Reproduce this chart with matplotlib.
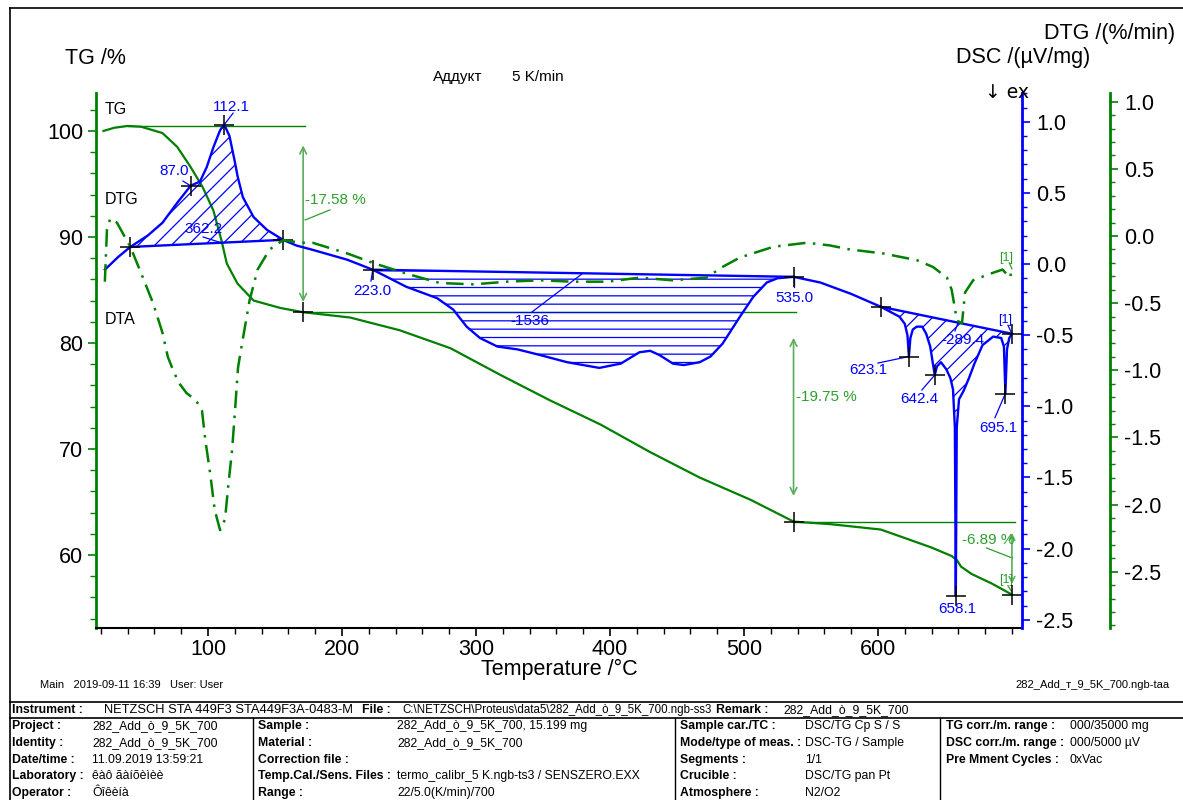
import numpy as np
import matplotlib
matplotlib.use('Agg')
import matplotlib.pyplot as plt
from matplotlib.lines import Line2D
from matplotlib.ticker import MultipleLocator

plt.rcParams['font.family'] = ['Liberation Sans', 'DejaVu Sans']
plt.rcParams['hatch.linewidth'] = 0.9

# ---------------- data ----------------
tg_T = [22, 30, 40, 50, 66, 77, 87, 96, 104, 110, 114, 122, 134, 154, 171, 206, 243, 281, 318,
        355, 393, 430, 467, 505, 537, 565, 602, 620, 640, 655, 659, 662, 670, 685, 700]
tg = [100.0, 100.3, 100.47, 100.4, 99.8, 98.5, 96.6, 94.7, 92.5, 89.7, 87.5, 85.6, 84.0, 83.3,
      82.9, 82.4, 81.2, 79.5, 77.0, 74.6, 72.3, 69.7, 67.3, 65.2, 63.15, 62.9, 62.4, 61.6, 60.7,
      59.9, 59.5, 58.9, 58.2, 57.3, 56.26]

dsc_T = [23, 33, 42, 55, 66, 77, 87, 94, 99, 104, 109, 112.1, 116, 120, 122, 126, 134, 144, 156,
         166, 178, 204, 223, 248, 271, 283, 293, 303, 316, 331, 348, 368, 392, 408, 422, 430, 437,
         447, 455, 467, 475, 484, 497, 507, 517, 525, 537, 557, 580, 602, 610, 616, 620, 622,
         623.1, 624.2, 626, 629, 633, 636, 639, 641, 642.4, 644, 647, 651, 654, 656, 657.4, 658.1,
         658.8, 660.5, 664, 668, 672, 678, 686, 692, 694, 695.1, 696.3, 698, 700]
dsc = [-0.04, 0.05, 0.12, 0.20, 0.29, 0.43, 0.55, 0.58, 0.68, 0.82, 0.94, 0.98, 0.90, 0.72, 0.62,
       0.47, 0.33, 0.24, 0.17, 0.13, 0.10, 0.03, -0.04, -0.16, -0.24, -0.32, -0.44, -0.52, -0.58,
       -0.60, -0.64, -0.69, -0.73, -0.70, -0.62, -0.61, -0.64, -0.70, -0.71, -0.69, -0.65, -0.56,
       -0.37, -0.23, -0.13, -0.10, -0.09, -0.13, -0.21, -0.30, -0.34, -0.37, -0.42, -0.50, -0.65,
       -0.52, -0.46, -0.44, -0.44, -0.49, -0.58, -0.70, -0.78, -0.72, -0.69, -0.74, -0.80, -0.88,
       -1.15, -2.33, -1.15, -0.95, -0.89, -0.80, -0.70, -0.57, -0.51, -0.52, -0.58, -0.91, -0.60,
       -0.52, -0.49]

dtg_T = [23, 24.6, 27, 32, 42, 49, 59, 66, 70, 74, 78, 84, 88, 92, 95.5, 98, 101.5, 105, 109,
         112.7, 115, 118, 120, 122.4, 125.4, 131, 137, 146, 156, 169, 178, 204, 223, 248, 273,
         298, 323, 348, 372, 398, 422, 447, 472, 484, 497, 522, 547, 564, 579, 604, 629, 641,
         651.5, 655, 659, 662.7, 665, 671, 684, 693, 698.5, 700]
dtg = [-0.34, 0.05, 0.13, 0.10, -0.08, -0.25, -0.50, -0.72, -0.90, -1.00, -1.09, -1.17, -1.20,
       -1.24, -1.30, -1.52, -1.76, -2.04, -2.19, -2.11, -1.87, -1.59, -1.32, -0.98, -0.80, -0.48,
       -0.25, -0.10, -0.03, -0.05, -0.05, -0.13, -0.20, -0.28, -0.35, -0.36, -0.34, -0.33, -0.34,
       -0.34, -0.31, -0.33, -0.31, -0.23, -0.16, -0.08, -0.05, -0.07, -0.10, -0.13, -0.18, -0.23,
       -0.31, -0.40, -0.63, -0.65, -0.42, -0.33, -0.28, -0.25, -0.31, -0.25]

# DSC peak areas: (start T, end T, area label)
areas = [(42, 156, "362.2"), (223, 537, "-1536"), (602, 700, "-289.4")]
dsc_marks = [42, 87, 112.1, 156, 223, 537, 602, 623.1, 642.4, 658.1, 695.1, 700]
# TG steps: (T of step, start %, end %, label)
tg_steps = [(171, 100.47, 82.9, "-17.58 %"), (537, 82.9, 63.15, "-19.75 %"),
            (700, 63.15, 56.26, "-6.89 %")]

x_ticks = [100, 200, 300, 400, 500, 600]
tg_ticks = [60, 70, 80, 90, 100]
dsc_ticks = [-2.5, -2.0, -1.5, -1.0, -0.5, 0.0, 0.5, 1.0]
dtg_ticks = [-2.5, -2.0, -1.5, -1.0, -0.5, 0.0, 0.5, 1.0]

# ---------------- figure ----------------
W, H = 1183, 800
fig = plt.figure(figsize=(W / 100, H / 100), dpi=100)
L, R, T, B = 96, 1022, 93, 628
ax = fig.add_axes([L / W, 1 - B / H, (R - L) / W, (B - T) / H])
ax2 = ax.twinx()
ax3 = ax.twinx()

GREEN = '#008000'
LGREEN = '#2e9e2e'
AGREEN = '#5aae5a'
BLUE = '#0000ff'

ax.set_xlim(16.4, 707.5)
ax.set_ylim(53.11, 103.58)
ax2.set_ylim(-2.558, 1.202)
ax3.set_ylim(-2.919, 1.065)

for a in (ax, ax2, ax3):
    for s in a.spines.values():
        s.set_visible(False)
ax.spines['left'].set_visible(True)
ax.spines['left'].set_color(GREEN)
ax.spines['left'].set_linewidth(2)
ax.spines['bottom'].set_visible(True)
ax.spines['bottom'].set_color('black')
ax.spines['bottom'].set_linewidth(1.5)
ax2.spines['right'].set_visible(True)
ax2.spines['right'].set_color(BLUE)
ax2.spines['right'].set_linewidth(2)
ax3.spines['right'].set_visible(True)
ax3.spines['right'].set_position(('outward', 88 * 0.72))
ax3.spines['right'].set_color(GREEN)
ax3.spines['right'].set_linewidth(2)

ax.set_xticks(x_ticks)
ax.xaxis.set_minor_locator(MultipleLocator(20))
ax.tick_params(axis='x', which='major', direction='out', length=6, width=1.2, labelsize=15.5, pad=2)
ax.tick_params(axis='x', which='minor', direction='out', length=4, width=1)
ax.set_yticks(tg_ticks)
ax.yaxis.set_minor_locator(MultipleLocator(2))
ax.tick_params(axis='y', which='major', direction='out', length=6, width=1.2, color=GREEN,
               labelsize=15.5, pad=3)
ax.tick_params(axis='y', which='minor', direction='out', length=4, width=1, color=GREEN)

ax2.set_yticks(dsc_ticks)
ax2.set_yticklabels([f"{v:.1f}" for v in dsc_ticks])
ax2.yaxis.set_minor_locator(MultipleLocator(0.1))
ax2.tick_params(axis='y', which='major', direction='out', length=6, width=1.2, color=BLUE,
                labelsize=15.5, pad=4)
ax2.tick_params(axis='y', which='minor', direction='out', length=3.5, width=1, color=BLUE)

ax3.set_yticks(dtg_ticks)
ax3.set_yticklabels([f"{v:.1f}" for v in dtg_ticks])
ax3.yaxis.set_minor_locator(MultipleLocator(0.1))
ax3.tick_params(axis='y', which='major', direction='out', length=6, width=1.2, color=GREEN,
                labelsize=15.5, pad=4)
ax3.tick_params(axis='y', which='minor', direction='out', length=3.5, width=1, color=GREEN)

# ---------------- curves ----------------
ax.plot(tg_T, tg, color=GREEN, lw=1.6, zorder=3)
ax3.plot(dtg_T, dtg, color=GREEN, lw=1.8, ls=(0, (7, 3, 1, 3)), zorder=3)
ax2.plot(dsc_T, dsc, color=BLUE, lw=1.7, zorder=4)

dT = np.array(dsc_T, dtype=float)
dV = np.array(dsc, dtype=float)
for i, (t0, t1, lab) in enumerate(areas):
    v0 = np.interp(t0, dT, dV)
    v1 = np.interp(t1, dT, dV)
    m = (dT >= t0) & (dT <= t1)
    tt = dT[m]
    base = v0 + (v1 - v0) * (tt - t0) / (t1 - t0)
    ax2.plot([t0, t1], [v0, v1], color=BLUE, lw=1.7, zorder=4)
    ax2.fill_between(tt, dV[m], base, facecolor='none', edgecolor=BLUE,
                     hatch='--' if i == 1 else '//', linewidth=0, zorder=2)

mv = np.interp(dsc_marks, dT, dV)
ax2.plot(dsc_marks, mv, ls='none', marker='+', ms=14, mew=1.1, color='black', zorder=6)

# ---------------- TG step annotations ----------------
s1, s2, s3 = tg_steps
# step 1
ax.plot([40, 172.5], [s1[1], s1[1]], color=GREEN, lw=1, zorder=2)
ax.annotate('', xy=(s1[0], 83.6), xytext=(s1[0], 98.9),
            arrowprops=dict(arrowstyle='<->', color=AGREEN, lw=1.2, mutation_scale=12))
ax.text(172.5, 93.5, s1[3], color=LGREEN, fontsize=11, va='center', ha='left')
ax.plot([172.5, 191], [91.6, 92.55], color=LGREEN, lw=0.9)
ax.plot([s1[0]], [s1[2]], marker='+', ms=14, mew=1.1, color='black', ls='none', zorder=6)
# step 2
ax.plot([s1[0], 538.5], [s2[1], s2[1]], color=GREEN, lw=1, zorder=2)
ax.annotate('', xy=(s2[0], 65.3), xytext=(s2[0], 80.75),
            arrowprops=dict(arrowstyle='<->', color=AGREEN, lw=1.2, mutation_scale=12))
ax.text(538.5, 74.9, s2[3], color=LGREEN, fontsize=11, va='center', ha='left')
ax.plot([s2[0]], [s2[2]], marker='+', ms=14, mew=1.1, color='black', ls='none', zorder=6)
# step 3
ax.plot([s2[0], 702], [s3[1], s3[1]], color=GREEN, lw=1, zorder=2)
ax.annotate('', xy=(s3[0], 57.0), xytext=(s3[0], 62.35),
            arrowprops=dict(arrowstyle='<->', color=AGREEN, lw=1.2, mutation_scale=10))
ax.text(662.5, 61.4, s3[3], color=LGREEN, fontsize=11, va='center', ha='left')
ax.plot([681, 700.5], [60.66, 59.7], color=LGREEN, lw=0.9)
ax.text(696, 57.6, '[1]', color=LGREEN, fontsize=9, va='center', ha='center')
ax.plot([697, 700], [57.1, 56.5], color=LGREEN, lw=0.9)
ax.plot([s3[0]], [s3[2]], marker='+', ms=14, mew=1.1, color='black', ls='none', zorder=6)

# ---------------- DSC annotations ----------------
def note(txt, tx, ty, lx0, ly0, lx1, ly1, size=11):
    ax2.text(tx, ty, txt, color=BLUE, fontsize=size, ha='center', va='center', zorder=7)
    ax2.plot([lx0, lx1], [ly0, ly1], color=BLUE, lw=0.9, zorder=5)

note('112.1', 117.2, 1.103, 112.1, 0.98, 118.7, 1.06)
note('87.0', 74.6, 0.654, 81.3, 0.583, 87, 0.55)
note(areas[0][2], 96.3, 0.246, 96.3, 0.19, 110.4, 0.148)
note('223.0', 222.4, -0.19, 223, -0.04, 221.6, -0.12)
note(areas[1][2], 340.3, -0.40, 341.8, -0.337, 379, -0.07)
note('535.0', 538, -0.24, 537, -0.09, 537, -0.16)
note('623.1', 592.5, -0.745, 600, -0.696, 623.1, -0.65)
note('642.4', 630.6, -0.95, 632.8, -0.885, 642.4, -0.78)
note(areas[2][2], 663.4, -0.534, 657.5, -0.47, 659.5, -0.42)
note('695.1', 689.6, -1.15, 687.3, -1.08, 695.1, -0.91)
note('658.1', 659, -2.424, 658.1, -2.33, 658.1, -2.33)
note('[1]', 694.8, -0.39, 697, -0.43, 700, -0.49, size=9)
ax3.text(696, -0.165, '[1]', color=LGREEN, fontsize=9, ha='center', va='center')
ax3.plot([698, 700], [-0.20, -0.245], color=LGREEN, lw=0.9)

# ---------------- texts ----------------
def ftext(x, y, s, **kw):
    fig.text(x / W, 1 - y / H, s, **kw)

ftext(65, 58, 'TG /%', fontsize=15.5, va='center', ha='left')
ftext(1175, 33, 'DTG /(%/min)', fontsize=15.5, va='center', ha='right')
ftext(1090, 58, 'DSC /(µV/mg)', fontsize=15.5, va='center', ha='right')
ftext(985, 92, '↓ ex', fontsize=13.5, va='center', ha='left', family=['DejaVu Sans'])
ftext(433, 77, 'Аддукт', fontsize=11, va='center', ha='left')
ftext(512, 77, '5 K/min', fontsize=11, va='center', ha='left')
ftext(559, 669, 'Temperature /°C', fontsize=15.5, va='center', ha='center')
ftext(105, 110, 'TG', fontsize=11.5, va='center', ha='left')
ftext(105, 200, 'DTG', fontsize=11.5, va='center', ha='left')
ftext(105, 320, 'DTA', fontsize=11.5, va='center', ha='left')
ftext(40, 685, 'Main   2019-09-11 16:39   User: User', fontsize=8, va='center', ha='left')
ftext(1170, 685, '282_Add_т_9_5K_700.ngb-taa', fontsize=8, va='center', ha='right')

# frame and table lines
def fline(x0, y0, x1, y1, lw=1.0, c='black'):
    fig.add_artist(Line2D([x0 / W, x1 / W], [1 - y0 / H, 1 - y1 / H], color=c, lw=lw,
                          transform=fig.transFigure))

fline(10, 8, W, 8, lw=1.2)
fline(10, 8, 10, H, lw=1.2)
fline(10, 702, W, 702, lw=1.2)
fline(10, 718, W, 718, lw=1.2)
for xv in (253, 675, 940):
    fline(xv, 718, xv, H, lw=1.0)

fs = 8.8
header = [(12, 'Instrument :', 'bold', 8.8), (104, 'NETZSCH STA 449F3 STA449F3A-0483-M', 'normal', 9.3),
          (362, 'File :', 'bold', 8.8),
          (402, 'C:\\NETZSCH\\Proteus\\data5\\282_Add_ò_9_5K_700.ngb-ss3', 'normal', 8.3),
          (716, 'Remark :', 'bold', 8.8), (783, '282_Add_ò_9_5K_700', 'normal', 8.8)]
for hx, s, wgt, hs in header:
    ftext(hx, 710, s, fontsize=hs, weight=wgt, va='center', ha='left')

rows = [
    ('Project :', '282_Add_ò_9_5K_700', 'Sample :', '282_Add_ò_9_5K_700, 15.199 mg',
     'Sample car./TC :', 'DSC/TG Cp S / S', 'TG corr./m. range :', '000/35000 mg'),
    ('Identity :', '282_Add_ò_9_5K_700', 'Material :', '282_Add_ò_9_5K_700',
     'Mode/type of meas. :', 'DSC-TG / Sample', 'DSC corr./m. range :', '000/5000 µV'),
    ('Date/time :', '11.09.2019 13:59:21', 'Correction file :', '',
     'Segments :', '1/1', 'Pre Mment Cycles :', '0xVac'),
    ('Laboratory :', 'êàô ãàíõèìèè', 'Temp.Cal./Sens. Files :', 'termo_calibr_5 K.ngb-ts3 / SENSZERO.EXX',
     'Crucible :', 'DSC/TG pan Pt', '', ''),
    ('Operator :', 'Ôîêèíà', 'Range :', '22/5.0(K/min)/700',
     'Atmosphere :', 'N2/O2', '', ''),
]
row_y = [726, 743, 760, 776, 793]
col_x = [12, 92, 258, 397, 680, 805, 946, 1070]
for ry, row in zip(row_y, rows):
    for j, (cx, s) in enumerate(zip(col_x, row)):
        ftext(cx, ry, s, fontsize=fs, va='center', ha='left',
              weight='bold' if j % 2 == 0 else 'normal')

fig.savefig('out.png', dpi=100)
